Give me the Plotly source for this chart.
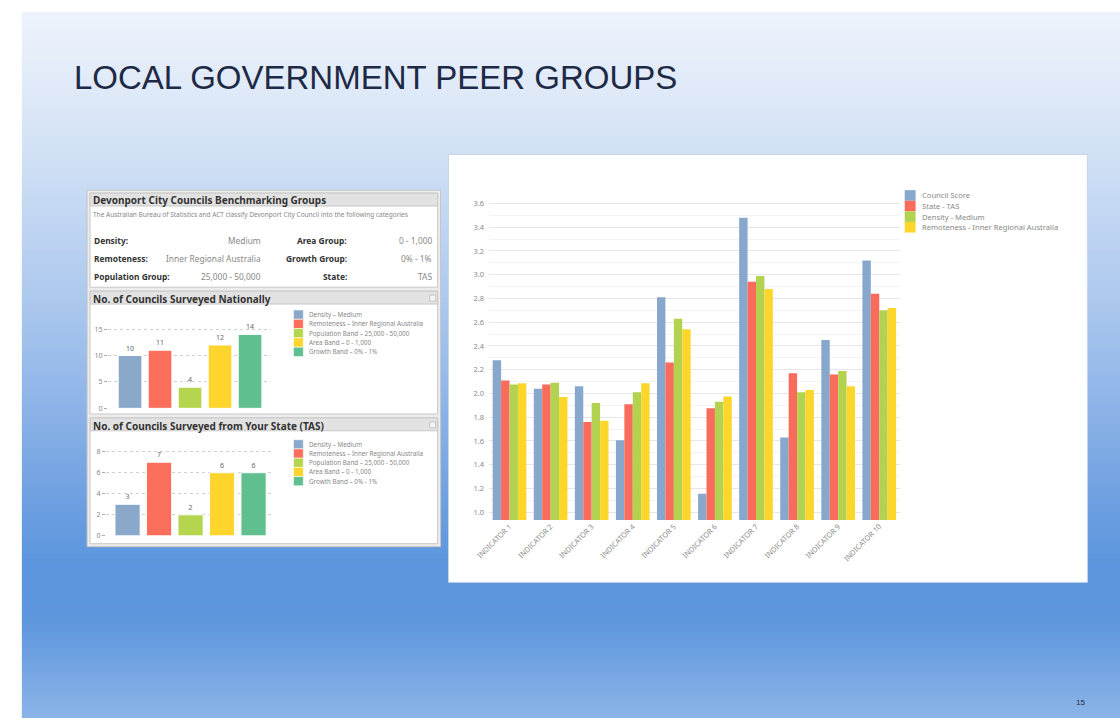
import plotly.graph_objects as go

W, H = 1120, 722


def px(x):
    return x / W


def py(y):
    return 1 - y / H


# ---------------- data ----------------
indicators = [f"INDICATOR {i}" for i in range(1, 11)]
council_score = [2.28, 2.04, 2.06, 1.605, 2.81, 1.155, 3.48, 1.63, 2.45, 3.12]
state_tas = [2.11, 2.075, 1.76, 1.91, 2.26, 1.875, 2.94, 2.17, 2.16, 2.84]
density_medium = [2.075, 2.09, 1.92, 2.01, 2.63, 1.93, 2.99, 2.01, 2.19, 2.70]
remoteness_inner = [2.085, 1.97, 1.77, 2.085, 2.54, 1.975, 2.88, 2.03, 2.06, 2.72]
series_names = ["Council Score", "State - TAS", "Density - Medium",
                "Remoteness - Inner Regional Australia"]

band_labels = ["Density – Medium", "Remoteness – Inner Regional Australia",
               "Population Band – 25,000 - 50,000", "Area Band – 0 - 1,000",
               "Growth Band – 0% - 1%"]
national_counts = [10, 11, 4, 12, 14]
state_counts = [3, 7, 2, 6, 6]

info_left = [("Density:", "Medium"), ("Remoteness:", "Inner Regional Australia"),
             ("Population Group:", "25,000 - 50,000")]
info_right = [("Area Group:", "0 - 1,000"), ("Growth Group:", "0% - 1%"), ("State:", "TAS")]

big_colors = ["#87a7cc", "#f96c5c", "#b3d350", "#fdd62c"]
band_colors = ["#8aa8ca", "#fb6e5c", "#b6d54f", "#ffd42c", "#5fbf8e"]

FONT_UI = "Noto Sans"
fig = go.Figure()

series_vals = [council_score, state_tas, density_medium, remoteness_inner]
for name, vals, col in zip(series_names, series_vals, big_colors):
    fig.add_trace(go.Bar(x=indicators, y=vals, name=name, marker_color=col,
                         marker_line_width=0, xaxis="x", yaxis="y", showlegend=False))

fig.add_trace(go.Bar(x=band_labels, y=national_counts, marker_color=band_colors,
                     marker_line=dict(color="white", width=1), width=0.79,
                     text=national_counts, textposition="outside", cliponaxis=False,
                     textfont=dict(size=7, color="#666", family=FONT_UI),
                     xaxis="x2", yaxis="y2", showlegend=False))
fig.add_trace(go.Bar(x=band_labels, y=state_counts, marker_color=band_colors,
                     marker_line=dict(color="white", width=1), width=0.8,
                     text=state_counts, textposition="outside", cliponaxis=False,
                     textfont=dict(size=7, color="#666", family=FONT_UI),
                     xaxis="x3", yaxis="y3", showlegend=False))

shapes = []
stops = [(9, "#eef3fc"), (100, "#dde8f7"), (200, "#c6d9f3"),
         (300, "#acc8ee"), (400, "#8fb5e8"), (500, "#6fa0e0"), (570, "#5b95dd"),
         (620, "#5d96dd"), (680, "#78a7e3"), (724, "#8cb5e8")]


def hex2rgb(h):
    return tuple(int(h[i:i + 2], 16) for i in (1, 3, 5))


def colour_at(y):
    for (y0, c0), (y1, c1) in zip(stops[:-1], stops[1:]):
        if y0 <= y <= y1:
            t = (y - y0) / (y1 - y0)
            a, b = hex2rgb(c0), hex2rgb(c1)
            return "rgb(%d,%d,%d)" % tuple(round(a[k] + (b[k] - a[k]) * t) for k in range(3))
    return stops[-1][1]


# slide background: integer-aligned overlapping strips
for y in range(9, 722, 2):
    shapes.append(dict(type="rect", xref="paper", yref="paper", x0=px(8), x1=1,
                       y0=max(0, py(y + 3)), y1=py(y), fillcolor=colour_at(y + 1),
                       line_width=0, layer="below"))


def rect(x0, y0, x1, y1, fill, line=None, lw=0):
    shapes.append(dict(type="rect", xref="paper", yref="paper", x0=px(x0), x1=px(x1),
                       y0=py(y1), y1=py(y0), fillcolor=fill,
                       line=dict(color=line or fill, width=lw), layer="below"))


rect(440, 153, 1087, 585, "white", "#c9d6ea", 1)
rect(74, 189, 432, 549, "#ececec", "#c4c4c4", 1)
for (y0, y1) in [(192, 287), (291, 415), (419, 546)]:
    rect(77, y0, 429, y1, "white", "#c8c8c8", 1)
    rect(77, y0, 429, y0 + 13, "#e2e2e2", "#c8c8c8", 1)
for y0 in (295, 423):
    rect(421, y0, 427, y0 + 6, "#f4f4f4", "#b0b0b0", 0.6)

annotations = []


def text(x, y, s, size, color, anchor="left", bold=False, family=FONT_UI):
    annotations.append(dict(x=px(x), y=py(y), xref="paper", yref="paper",
                            text=f"<b>{s}</b>" if bold else s,
                            showarrow=False, xanchor=anchor, yanchor="middle", borderpad=0,
                            font=dict(size=size, color=color, family=family)))


text(60, 75, "LOCAL GOVERNMENT PEER GROUPS", 33, "#1e2a45", family="Liberation Sans")
text(1086, 706, "15", 8, "#1e2a45", anchor="right", family="Liberation Sans")

text(79, 199, "Devonport City Councils Benchmarking Groups", 10, "#333", bold=True)
text(79, 214, "The Australian Bureau of Statistics and ACT classify Devonport City Council into the following categories",
     6.5, "#888")
for i, ((l1, v1), (l2, v2)) in enumerate(zip(info_left, info_right)):
    yy = 240 + i * 18
    text(80, yy, l1, 8.4, "#333", bold=True)
    text(251, yy, v1, 8.4, "#888", anchor="right")
    text(338, yy, l2, 8.4, "#333", anchor="right", bold=True)
    text(424, yy, v2, 8.4, "#888", anchor="right")
text(79, 299, "No. of Councils Surveyed Nationally", 10, "#333", bold=True)
text(79, 427, "No. of Councils Surveyed from Your State (TAS)", 10, "#333", bold=True)

for (ytop, step) in [(310, 9.4), (441, 9.3)]:
    for i, (lab, col) in enumerate(zip(band_labels, band_colors)):
        rect(283, ytop + i * step, 293, ytop + (i + 1) * step, col, "white", 0.6)
        text(298, ytop + (i + 0.5) * step, lab, 6.3, "#888")

for i, (lab, col) in enumerate(zip(series_names, big_colors)):
    rect(902, 189 + i * 10.7, 913, 189 + (i + 1) * 10.7, col)
    text(918, 189 + (i + 0.5) * 10.7, lab, 7.6, "#888")

tick_font = dict(size=7.5, color="#8a8a8a", family=FONT_UI)
small_tick = dict(size=7, color="#888", family=FONT_UI)
fig.update_layout(
    width=W, height=H, margin=dict(l=0, r=0, t=0, b=0),
    paper_bgcolor="white", plot_bgcolor="rgba(0,0,0,0)",
    barmode="group", bargap=0.18, bargroupgap=0,
    shapes=shapes, annotations=annotations,
    xaxis=dict(domain=[px(481), px(897)], anchor="y", tickangle=-45, showgrid=False,
               showline=False, ticks="", tickfont=dict(size=7.3, color="#8a8a8a", family=FONT_UI)),
    yaxis=dict(domain=[py(522), py(200)], anchor="x", range=[0.935, 3.62], dtick=0.2, tick0=0,
               tickformat=".1f", gridcolor="#e6e6e6", gridwidth=1, zeroline=False,
               minor=dict(dtick=0.1, tick0=0, showgrid=True, gridcolor="#f3f3f3"),
               tickfont=tick_font, ticklabelstandoff=4),
    xaxis2=dict(domain=[px(95), px(260)], anchor="y2", range=[-0.741, 4.69],
                showticklabels=False, showgrid=False, ticks="", showline=False),
    yaxis2=dict(domain=[py(409.3), py(324)], anchor="x2", range=[0, 16], dtick=5,
                griddash="dot", gridcolor="#cfcfcf", zeroline=False, ticks="outside",
                ticklen=3, tickcolor="#aaa", tickfont=small_tick),
    xaxis3=dict(domain=[px(93), px(263)], anchor="y3", range=[-0.69, 4.64],
                showticklabels=False, showgrid=False, ticks="", showline=False),
    yaxis3=dict(domain=[py(538), py(447.8)], anchor="x3", range=[0, 8.5], dtick=2,
                griddash="dot", gridcolor="#cfcfcf", zeroline=False, ticks="outside",
                ticklen=3, tickcolor="#aaa", tickfont=small_tick),
)

# remove the default 8px page margin so the figure fills the 1120x722 window exactly
fig.write_html("out.html", config={"displayModeBar": False, "staticPlot": True},
               post_script="document.body.style.margin='0';document.body.style.overflow='hidden';")
